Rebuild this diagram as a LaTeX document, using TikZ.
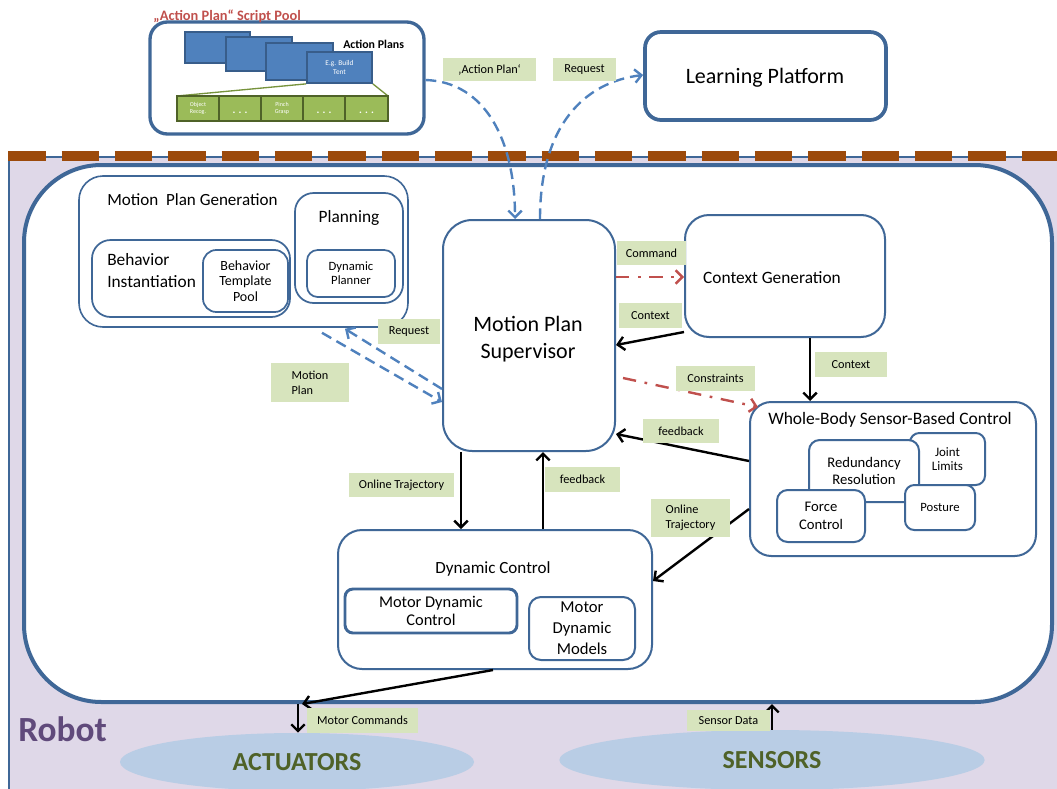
\documentclass[tikz,border=0pt]{standalone}
\usepackage{fontspec}
\setmainfont{Carlito}
\usetikzlibrary{arrows.meta,calc,shapes.geometric}
\definecolor{dblue}{HTML}{3F6797}
\definecolor{bblue}{HTML}{4F81BD}
\definecolor{nblue}{HTML}{385D8A}
\definecolor{lav}{HTML}{DFD8E8}
\definecolor{brn}{HTML}{9C4A0B}
\definecolor{lgr}{HTML}{D7E4BD}
\definecolor{gfill}{HTML}{9BBB59}
\definecolor{gdark}{HTML}{4F6228}
\definecolor{gline}{HTML}{77933C}
\definecolor{redc}{HTML}{C0504D}
\definecolor{ellc}{HTML}{B9CDE5}
\definecolor{purp}{HTML}{604A7B}
\newcommand{\fsz}[2]{\fontsize{#1}{#2}\selectfont}
% \bx{options}{name}{x1}{y1}{x2}{y2}{text}
\newcommand{\bx}[7]{\node[#1, minimum width={(#5-#3)*0.75pt}, minimum height={(#6-#4)*0.75pt}] (#2) at ({(#3+#5)/2},{(#4+#6)/2}) {#7};}
\begin{document}
\begin{tikzpicture}[x=0.75pt,y=-0.75pt,
  box/.style={draw=dblue,line width=1.5pt,fill=white,inner sep=0pt,align=center},
  big/.style={draw=dblue,line width=2.8pt,fill=white,inner sep=0pt,align=center},
  lbl/.style={fill=lgr,inner sep=0pt,align=center,font=\fsz{9.2}{11}},
  txt/.style={inner sep=0pt,align=center},
  arr/.style={-{Straight Barb[length=5pt,width=10pt]},line width=1.8pt,black},
  bdash/.style={-{Straight Barb[length=5pt,width=10pt]},line width=1.8pt,bblue,dash pattern=on 8pt off 4.5pt},
  rdash/.style={-{Straight Barb[length=5pt,width=10pt]},line width=1.8pt,redc,dash pattern=on 10pt off 6.5pt on 2pt off 6.5pt},
  brect/.style={draw=nblue,line width=1.3pt,fill=bblue,inner sep=0pt,align=center,text=white},
  gcell/.style={draw=gdark,line width=1.4pt,fill=gfill,inner sep=0pt,align=center,text=white},
  ell/.style={ellipse,fill=ellc,inner sep=0pt,text=gdark,font=\fsz{19.5}{22}\bfseries}
]
\useasboundingbox (0,0) rectangle (1057,789);
\clip (0,0) rectangle (1057,789);
% robot area
\bx{fill=lav, draw=dblue, line width=1.2pt, inner sep=0pt}{robot}{9}{157}{1075}{800}{}
\draw[brn, line width=7.5pt, dash pattern=on 28pt off 12pt] (robot.north west) -- (robot.north east);
\bx{big, rounded corners=58pt, line width=3pt}{inner}{24}{165}{1052}{702}{}
\node[txt, anchor=west, text=purp, font=\fsz{26.5}{30}\bfseries] (robott) at (18,729) {Robot};
\node[ell, minimum width=265.5pt, minimum height=43.5pt] (act) at (297,762) {ACTUATORS};
\node[ell, minimum width=319pt, minimum height=45pt] (sen) at (772,760) {SENSORS};

% action plan pool
\bx{big, rounded corners=13pt, line width=2.5pt}{pool}{150}{22}{424}{134}{}
\node[txt, anchor=west, text=redc, font=\fsz{10.8}{12}\bfseries] (pooltitle) at (153,16) {„Action Plan“ Script Pool};
\bx{brect}{r1}{185}{32}{250}{63}{}
\bx{brect}{r2}{226}{37}{292}{71}{}
\bx{brect}{r3}{266}{43}{333}{80}{}
\node[txt, anchor=west, font=\fsz{8.9}{10}\bfseries] (aplans) at (343,44) {Action Plans};
\bx{brect, font=\fsz{5.5}{7}}{r4}{307}{52}{372}{83}{E.g. Build\\Tent}
\coordinate (g1) at (177,96);
\coordinate (g2) at (388,96);
\draw[gline, line width=1pt] (r4.south west) -- (g1);
\draw[gline, line width=1pt] (r4.south east) -- (g2);
\bx{gcell, font=\fsz{4.5}{5.5}}{c1}{177}{96}{219}{121}{Object\\Recog.}
\bx{gcell}{c2}{219}{96}{261}{121}{}
\bx{gcell, font=\fsz{4.5}{5.5}}{c3}{261}{96}{303}{121}{Pinch\\Grasp}
\bx{gcell}{c4}{303}{96}{345}{121}{}
\bx{gcell}{c5}{345}{96}{388}{121}{}
\node[txt, text=white, font=\fsz{8}{9}\bfseries] (d2) at ($(c2.center)+(0,4)$) {. . .};
\node[txt, text=white, font=\fsz{8}{9}\bfseries] (d4) at ($(c4.center)+(0,4)$) {. . .};
\node[txt, text=white, font=\fsz{8}{9}\bfseries] (d5) at ($(c5.center)+(0,4)$) {. . .};

% learning platform
\bx{big, rounded corners=12pt}{lp}{645}{32}{886}{120}{}
\node[txt, font=\fsz{16.5}{19}] (lpt) at (765,78) {Learning Platform};

% motion plan generation
\bx{box, rounded corners=18pt, line width=1.2pt}{mpg}{79}{176}{408}{327}{}
\node[txt, anchor=west, font=\fsz{12.8}{15}] (mpgt) at (107,200) {Motion\ \ Plan Generation};
\bx{box, rounded corners=14pt, line width=1.3pt}{bi}{92}{240}{290}{317}{}
\node[txt, anchor=west, align=left, font=\fsz{13}{16.5}] (bit) at (107,271) {Behavior\\Instantiation};
\bx{box, rounded corners=10pt, line width=1.3pt, font=\fsz{10.5}{11.6}}{btp}{203}{250}{288}{312}{Behavior\\Template\\Pool}
\bx{box, rounded corners=14pt, line width=1.3pt}{plan}{295}{193}{403}{303}{}
\node[txt, font=\fsz{13}{15}] (plant) at (349,218) {Planning};
\bx{box, rounded corners=8pt, line width=1.3pt, font=\fsz{9.5}{10.5}}{dp}{307}{250}{395}{297}{Dynamic\\Planner}

% supervisor
\bx{box, rounded corners=22pt}{sup}{443}{220}{615}{451}{}
\node[txt, font=\fsz{16.5}{20}] (supt) at (528,339) {Motion Plan\\Supervisor};

% context generation
\bx{box, rounded corners=18pt}{ctx}{685}{215}{885}{337}{}
\node[txt, font=\fsz{13}{15}] (ctxt) at (772,278) {Context Generation};

% whole body
\bx{box, rounded corners=16pt}{wbc}{750}{402}{1036}{556}{}
\node[txt, font=\fsz{13.1}{15}] (wbct) at (890,420) {Whole-Body Sensor-Based Control};
\bx{box, rounded corners=7pt, font=\fsz{9.7}{10.8}}{jl}{910}{433}{985}{485}{Joint\\Limits}
\bx{box, rounded corners=8pt, font=\fsz{11}{12.8}}{red}{809}{440}{919}{502}{Redundancy\\Resolution}
\bx{box, rounded corners=7pt, font=\fsz{9.5}{11}}{post}{905}{485}{975}{530}{Posture}
\bx{box, rounded corners=8pt, font=\fsz{11}{13.5}}{force}{777}{490}{865}{542}{Force\\Control}

% dynamic control
\bx{box, rounded corners=18pt}{dyn}{338}{530}{652}{669}{}
\node[txt, font=\fsz{12.8}{15}] (dynt) at (493,569) {Dynamic Control};
\bx{box, rounded corners=6pt, line width=2.2pt, font=\fsz{12.3}{13.5}}{mdc}{345}{589}{517}{633}{Motor Dynamic\\Control}
\bx{box, rounded corners=9pt, font=\fsz{12.5}{15.75}}{mdm}{529}{597}{635}{660}{Motor\\Dynamic\\Models}

% connectors
\draw[arr] (461,0 |- sup.south) -- (461,0 |- dyn.north);
\draw[arr] (543,0 |- dyn.north) -- (543,0 |- sup.south);
\draw[rdash] (sup.east |- 0,277) -- (ctx.west |- 0,277);
\draw[arr] (ctx.west |- 0,332) -- (sup.east |- 0,345);
\draw[arr] (810,0 |- ctx.south) -- (810,0 |- wbc.north);
\draw[rdash] ($(sup.east |- 0,378)+(7,0)$) -- ($(wbc.north west)+(9,6)$);
\draw[arr] (wbc.west |- 0,461) -- (sup.east |- 0,434);
\draw[arr] (wbc.west |- 0,509) -- (dyn.east |- 0,581);
\draw[bdash] ($(322,0 |- mpg.south)+(0,5)$) -- (sup.west |- 0,402);
\draw[bdash] (sup.west |- 0,389) -- ($(345,0 |- mpg.south)+(0,1)$);
\draw[bdash] (pool.east |- 0,80) .. controls (485,82) and (515,140) .. (515,0 |- sup.north);
\draw[bdash] (540,0 |- sup.north) .. controls (540,125) and (585,82) .. (lp.west |- 0,75);
\draw[arr] (493,0 |- dyn.south) -- (302,0 |- inner.south);
\draw[arr] (298,0 |- inner.south) -- (298,0 |- act.north);
\draw[arr] (772,0 |- sen.north) -- (772,0 |- inner.south);

% labels
\bx{lbl}{l1}{443}{58}{536}{81}{‚Action Plan‘}
\bx{lbl}{l2}{553}{58}{616}{81}{Request}
\bx{lbl}{l3}{617}{241}{686}{265}{Command}
\bx{lbl}{l4}{619}{303}{682}{328}{Context}
\bx{lbl}{l5}{815}{352}{887}{377}{Context}
\bx{lbl}{l6}{676}{366}{755}{391}{Constraints}
\bx{lbl}{l7}{643}{419}{719}{443}{feedback}
\bx{lbl, align=left}{l8}{651}{499}{730}{537}{Online\\Trajectory}
\bx{lbl}{l9}{349}{473}{454}{497}{Online Trajectory}
\bx{lbl}{l10}{545}{467}{620}{492}{feedback}
\bx{lbl}{l11}{378}{319}{440}{344}{Request}
\bx{lbl, align=left}{l12}{271}{363}{349}{402}{Motion\\Plan}
\bx{lbl}{l13}{307}{708}{418}{733}{Motor Commands}
\bx{lbl}{l14}{687}{710}{770}{731}{Sensor Data}
\end{tikzpicture}
\end{document}
